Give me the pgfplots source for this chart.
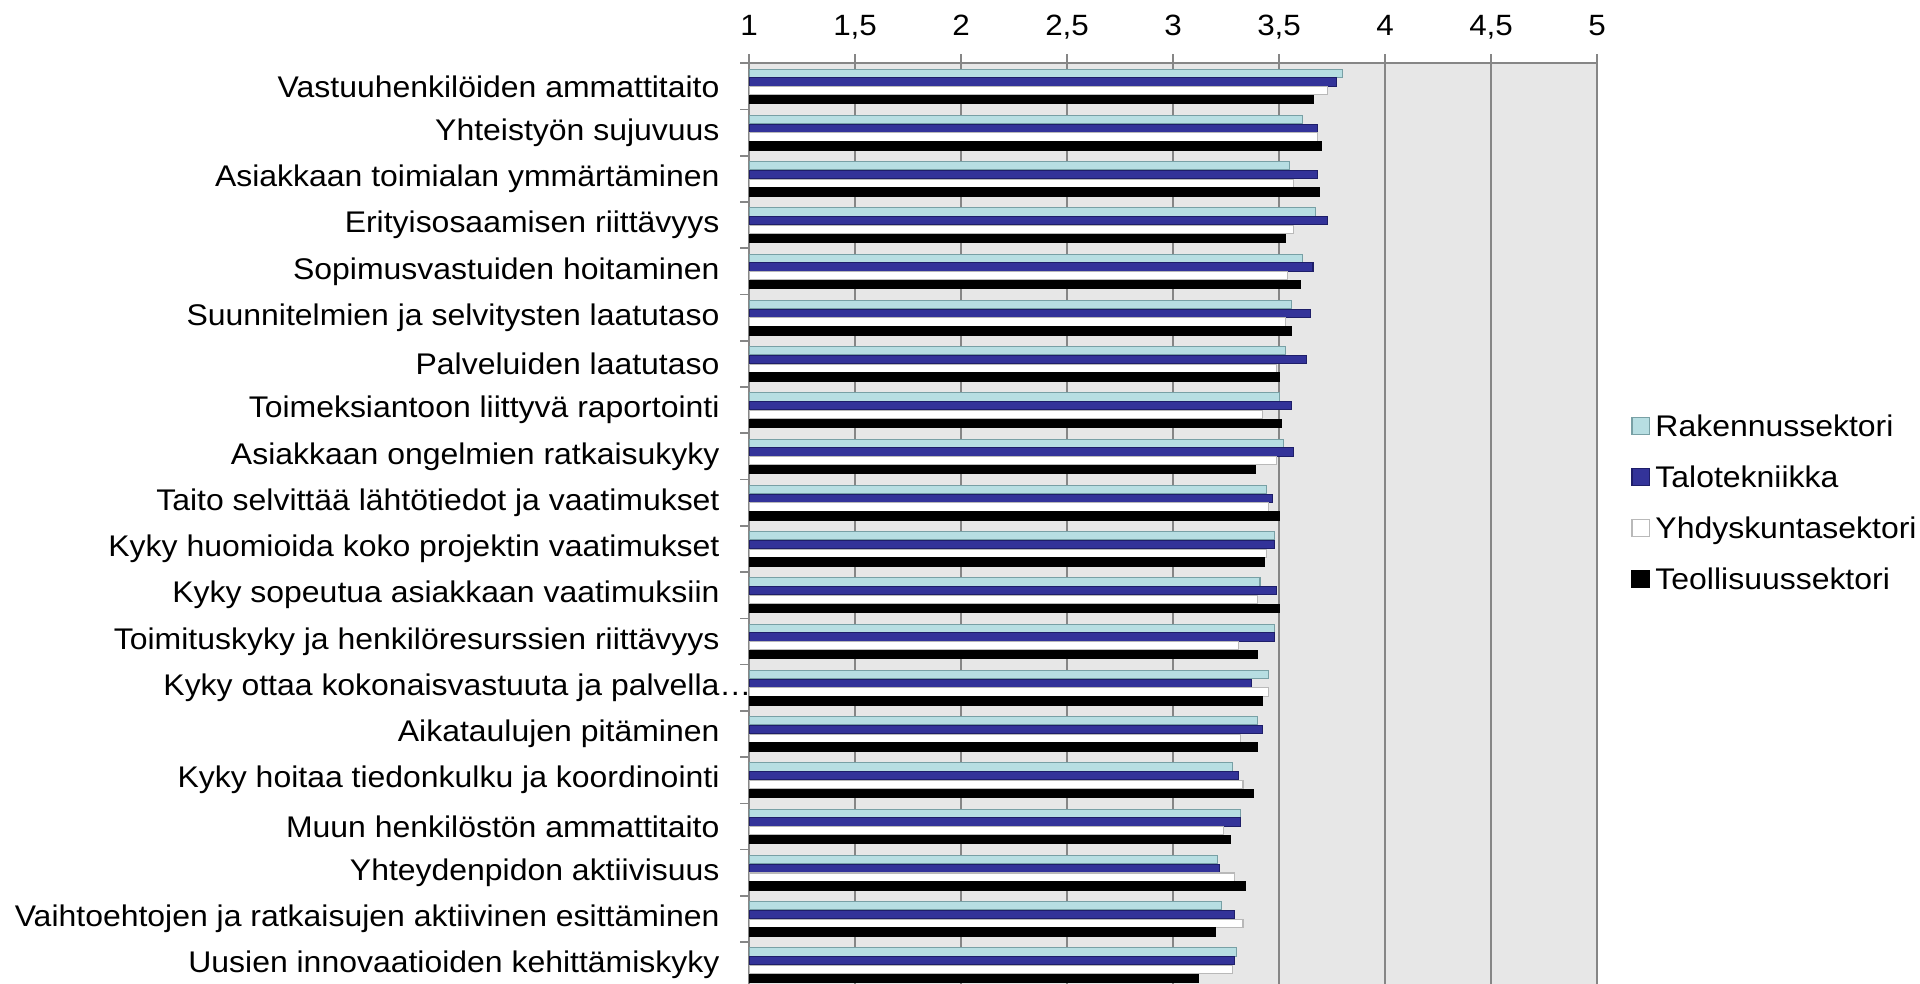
\documentclass[border=0pt]{standalone}
\usepackage{pgfplots}
\pgfplotsset{compat=1.18}
\usepackage{pgfplotstable}
\usepackage{fontspec}
\setmainfont{Liberation Sans}[FakeStretch=1.07]
\definecolor{rakfill}{RGB}{183,222,226}
\definecolor{rakdraw}{RGB}{120,160,165}
\definecolor{talofill}{RGB}{51,51,153}
\definecolor{talodraw}{RGB}{30,30,105}
\definecolor{yhddraw}{RGB}{185,185,185}
\definecolor{bggray}{RGB}{231,231,231}
\definecolor{gridgray}{RGB}{134,134,134}

% pos: 20 = top category, 1 = bottom category
\pgfplotstableread{
pos rak talo yhd teol
20 3.80 3.77 3.73 3.66
19 3.61 3.68 3.68 3.70
18 3.55 3.68 3.57 3.69
17 3.67 3.73 3.57 3.53
16 3.61 3.66 3.54 3.60
15 3.56 3.65 3.53 3.56
14 3.53 3.63 3.49 3.50
13 3.50 3.56 3.42 3.51
12 3.52 3.57 3.49 3.39
11 3.44 3.47 3.45 3.50
10 3.48 3.48 3.44 3.43
9  3.41 3.49 3.40 3.50
8  3.48 3.48 3.31 3.40
7  3.45 3.37 3.45 3.42
6  3.40 3.42 3.32 3.40
5  3.28 3.31 3.33 3.38
4  3.32 3.32 3.24 3.27
3  3.21 3.22 3.29 3.34
2  3.23 3.29 3.33 3.20
1  3.30 3.29 3.28 3.12
}\data

\begin{document}
\begin{tikzpicture}
\path[use as bounding box] (0pt,0pt) rectangle (720pt,368.625pt);
\begin{axis}[
  at={(280.9pt,-2pt)}, anchor=south west,
  scale only axis, width=318pt, height=346.9pt,
  xbar,
  bar width=3.1pt,
  xmin=1, xmax=5, ymin=0.5, ymax=20.5,
  axis background/.style={fill=bggray},
  xtick={1,1.5,...,5},
  xtick pos=right, xticklabel pos=right,
  ytick={1,...,20},
  minor ytick={0.5,1.5,...,20.5},
  ytick pos=left,
  tick align=outside,
  major tick length=3.4pt,
  minor tick length=3.4pt,
  major y tick style={draw=none},
  tick style={gridgray, line width=0.6pt},
  xmajorgrids,
  major grid style={gridgray, line width=0.6pt},
  axis line style={gridgray, line width=0.6pt},
  /pgf/number format/use comma,
  /pgf/number format/assume math mode=true,
  xticklabel style={font=\fontsize{11pt}{13pt}\selectfont, inner sep=0pt, text depth=0pt, anchor=south, yshift=6.8pt},
  yticklabel style={font=\fontsize{11.2pt}{13pt}\selectfont, inner sep=0pt, anchor=east, xshift=-7.5pt},
  yticklabels={
    Uusien innovaatioiden kehittämiskyky,
    Vaihtoehtojen ja ratkaisujen aktiivinen esittäminen,
    Yhteydenpidon aktiivisuus,
    Muun henkilöstön ammattitaito,
    Kyky hoitaa tiedonkulku ja koordinointi,
    Aikataulujen pitäminen,
    {Kyky ottaa kokonaisvastuuta ja palvella\rlap{…}},
    Toimituskyky ja henkilöresurssien riittävyys,
    Kyky sopeutua asiakkaan vaatimuksiin,
    {Kyky huomioida koko projektin vaatimukset\ },
    {Taito selvittää lähtötiedot ja vaatimukset\ },
    Asiakkaan ongelmien ratkaisukyky,
    Toimeksiantoon liittyvä raportointi,
    Palveluiden laatutaso,
    Suunnitelmien ja selvitysten laatutaso,
    Sopimusvastuiden hoitaminen,
    Erityisosaamisen riittävyys,
    Asiakkaan toimialan ymmärtäminen,
    Yhteistyön sujuvuus,
    Vastuuhenkilöiden ammattitaito},
  legend image code/.code={\draw[#1, line width=0.4pt] (0pt,-2.2pt) rectangle (6.4pt,4.2pt);},
  legend cell align=left,
  legend style={at={(axis description cs:1.0399,0.6212)}, anchor=north west,
    draw=none, fill=none, inner sep=0pt, row sep=8.1pt, column sep=2.2pt,
    font=\fontsize{11.2pt}{13pt}\selectfont,
    nodes={inner sep=0pt, text height=8.5pt, text depth=2.5pt}},
]
\addplot[fill=rakfill, draw=rakdraw, line width=0.4pt, bar shift=4.95pt] table[x=rak, y=pos]{\data};
\addplot[fill=talofill, draw=talodraw, line width=0.4pt, bar shift=1.65pt] table[x=talo, y=pos]{\data};
\addplot[fill=white, draw=yhddraw, line width=0.4pt, bar shift=-1.65pt] table[x=yhd, y=pos]{\data};
\addplot[fill=black, draw=black, line width=0.4pt, bar shift=-4.95pt] table[x=teol, y=pos]{\data};
\legend{Rakennussektori, Talotekniikka, Yhdyskuntasektori, Teollisuussektori}
\end{axis}
\end{tikzpicture}
\end{document}
